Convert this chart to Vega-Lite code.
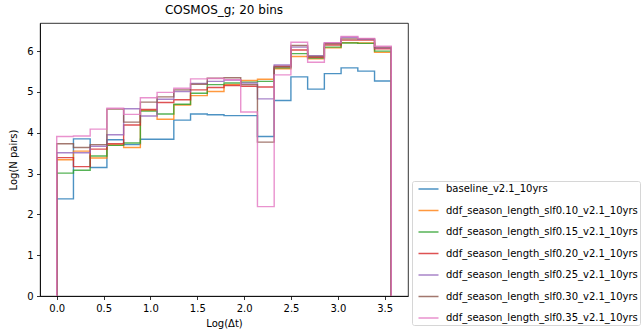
{
  "$schema": "https://vega.github.io/schema/vega-lite/v6.json",
  "autosize": {"type": "none"},
  "padding": {"left": 40, "top": 23, "right": 235, "bottom": 34},
  "width": 368,
  "height": 273,
  "title": {"text": "COSMOS_g; 20 bins", "fontSize": 12, "font": "DejaVu Sans", "fontWeight": "normal", "color": "#000", "offset": 6},
  "data": {"values": [
    {"o": 0, "x": 0, "b": 0, "s10": 0, "s15": 0, "s20": 0, "s25": 0, "s30": 0, "s35": 0},
    {"o": 1, "x": 0, "b": 2.38, "s10": 3.34, "s15": 3.01, "s20": 3.39, "s25": 3.51, "s30": 3.73, "s35": 3.91},
    {"o": 2, "x": 0.1785, "b": 3.85, "s10": 3.55, "s15": 3.08, "s20": 3.17, "s25": 3.51, "s30": 3.64, "s35": 3.92},
    {"o": 3, "x": 0.357, "b": 3.15, "s10": 3.38, "s15": 3.43, "s20": 3.6, "s25": 3.67, "s30": 3.71, "s35": 4.09},
    {"o": 4, "x": 0.5355, "b": 3.83, "s10": 3.7, "s15": 3.69, "s20": 3.73, "s25": 3.95, "s30": 4.58, "s35": 4.6},
    {"o": 5, "x": 0.714, "b": 3.71, "s10": 3.64, "s15": 3.75, "s20": 4.19, "s25": 4.59, "s30": 4.26, "s35": 4.45},
    {"o": 6, "x": 0.8925, "b": 3.84, "s10": 4.55, "s15": 4.53, "s20": 4.57, "s25": 4.41, "s30": 4.75, "s35": 4.86},
    {"o": 7, "x": 1.071, "b": 3.84, "s10": 4.33, "s15": 4.46, "s20": 4.74, "s25": 4.82, "s30": 4.88, "s35": 4.99},
    {"o": 8, "x": 1.2495, "b": 4.31, "s10": 4.68, "s15": 4.7, "s20": 4.81, "s25": 5.01, "s30": 5.05, "s35": 5.09},
    {"o": 9, "x": 1.428, "b": 4.46, "s10": 4.91, "s15": 4.97, "s20": 5.05, "s25": 5.21, "s30": 5.19, "s35": 5.32},
    {"o": 10, "x": 1.6065, "b": 4.44, "s10": 5.01, "s15": 5.18, "s20": 5.11, "s25": 5.26, "s30": 5.34, "s35": 5.33},
    {"o": 11, "x": 1.785, "b": 4.42, "s10": 5.18, "s15": 5.22, "s20": 5.16, "s25": 5.29, "s30": 5.35, "s35": 5.3},
    {"o": 12, "x": 1.9635, "b": 4.42, "s10": 5.28, "s15": 5.24, "s20": 5.14, "s25": 5.22, "s30": 5.18, "s35": 4.51},
    {"o": 13, "x": 2.142, "b": 3.91, "s10": 5.31, "s15": 5.26, "s20": 5.12, "s25": 4.83, "s30": 3.77, "s35": 2.19},
    {"o": 14, "x": 2.3205, "b": 4.79, "s10": 5.57, "s15": 5.59, "s20": 5.63, "s25": 5.66, "s30": 5.61, "s35": 5.42},
    {"o": 15, "x": 2.499, "b": 5.37, "s10": 5.87, "s15": 5.94, "s20": 6.03, "s25": 6.1, "s30": 6.14, "s35": 6.22},
    {"o": 16, "x": 2.6775, "b": 5.07, "s10": 5.81, "s15": 5.83, "s20": 5.85, "s25": 5.89, "s30": 5.87, "s35": 5.73},
    {"o": 17, "x": 2.856, "b": 5.45, "s10": 6.08, "s15": 6.1, "s20": 6.15, "s25": 6.2, "s30": 6.18, "s35": 6.21},
    {"o": 18, "x": 3.0345, "b": 5.59, "s10": 6.21, "s15": 6.2, "s20": 6.27, "s25": 6.34, "s30": 6.3, "s35": 6.36},
    {"o": 19, "x": 3.213, "b": 5.51, "s10": 6.2, "s15": 6.19, "s20": 6.27, "s25": 6.29, "s30": 6.3, "s35": 6.31},
    {"o": 20, "x": 3.3915, "b": 5.27, "s10": 5.97, "s15": 6.0, "s20": 6.06, "s25": 6.08, "s30": 6.1, "s35": 6.12},
    {"o": 21, "x": 3.57, "b": 5.27, "s10": 5.97, "s15": 6.0, "s20": 6.06, "s25": 6.08, "s30": 6.1, "s35": 6.12},
    {"o": 22, "x": 3.57, "b": 0, "s10": 0, "s15": 0, "s20": 0, "s25": 0, "s30": 0, "s35": 0}
  ]},
  "transform": [
    {"fold": ["b", "s10", "s15", "s20", "s25", "s30", "s35"], "as": ["k", "v"]},
    {"lookup": "k", "from": {"data": {"values": [
      {"k": "b", "name": "baseline_v2.1_10yrs"},
      {"k": "s10", "name": "ddf_season_length_slf0.10_v2.1_10yrs"},
      {"k": "s15", "name": "ddf_season_length_slf0.15_v2.1_10yrs"},
      {"k": "s20", "name": "ddf_season_length_slf0.20_v2.1_10yrs"},
      {"k": "s25", "name": "ddf_season_length_slf0.25_v2.1_10yrs"},
      {"k": "s30", "name": "ddf_season_length_slf0.30_v2.1_10yrs"},
      {"k": "s35", "name": "ddf_season_length_slf0.35_v2.1_10yrs"}
    ]}, "key": "k", "fields": ["name"]}}
  ],
  "mark": {"type": "line", "interpolate": "step-after", "strokeWidth": 1.4, "opacity": 0.8},
  "encoding": {
    "x": {"field": "x", "type": "quantitative",
      "scale": {"domain": [-0.1785, 3.7485], "nice": false, "zero": false},
      "axis": {"values": [0, 0.5, 1, 1.5, 2, 2.5, 3, 3.5], "format": ".1f", "title": "Log(Δt)", "titlePadding": 5}},
    "y": {"field": "v", "type": "quantitative",
      "scale": {"domain": [0, 6.69], "nice": false, "zero": false},
      "axis": {"values": [0, 1, 2, 3, 4, 5, 6], "format": "d", "title": "Log(N pairs)", "titlePadding": 8}},
    "color": {"field": "name", "type": "nominal",
      "scale": {"domain": ["baseline_v2.1_10yrs", "ddf_season_length_slf0.10_v2.1_10yrs", "ddf_season_length_slf0.15_v2.1_10yrs", "ddf_season_length_slf0.20_v2.1_10yrs", "ddf_season_length_slf0.25_v2.1_10yrs", "ddf_season_length_slf0.30_v2.1_10yrs", "ddf_season_length_slf0.35_v2.1_10yrs"],
        "range": ["#1f77b4", "#ff7f0e", "#2ca02c", "#d62728", "#9467bd", "#8c564b", "#e377c2"]},
      "legend": {"title": null, "orient": "none", "legendX": 372, "legendY": 158,
        "symbolType": "M-2,0L2,0", "symbolSize": 100, "symbolStrokeWidth": 1.5, "symbolOpacity": 0.8,
        "symbolOffset": 8.5, "labelOffset": 11.5, "rowPadding": 10.5, "padding": 2,
        "labelFontSize": 10, "labelFont": "DejaVu Sans", "labelColor": "#000", "labelLimit": 400,
        "strokeColor": "#d6d6d6", "fillColor": "#ffffff", "cornerRadius": 2}},
    "order": {"field": "o", "type": "quantitative"}
  },
  "config": {
    "font": "DejaVu Sans",
    "view": {"stroke": "#000", "strokeWidth": 0.8},
    "axis": {"grid": false, "domainColor": "#000", "domainWidth": 0.8, "tickColor": "#000", "tickWidth": 0.8, "tickSize": 3.5,
      "labelFontSize": 10, "labelFont": "DejaVu Sans", "labelColor": "#000", "labelPadding": 3.5,
      "titleFontSize": 10, "titleFont": "DejaVu Sans", "titleFontWeight": "normal", "titleColor": "#000", "labelFlush": false}
  }
}
